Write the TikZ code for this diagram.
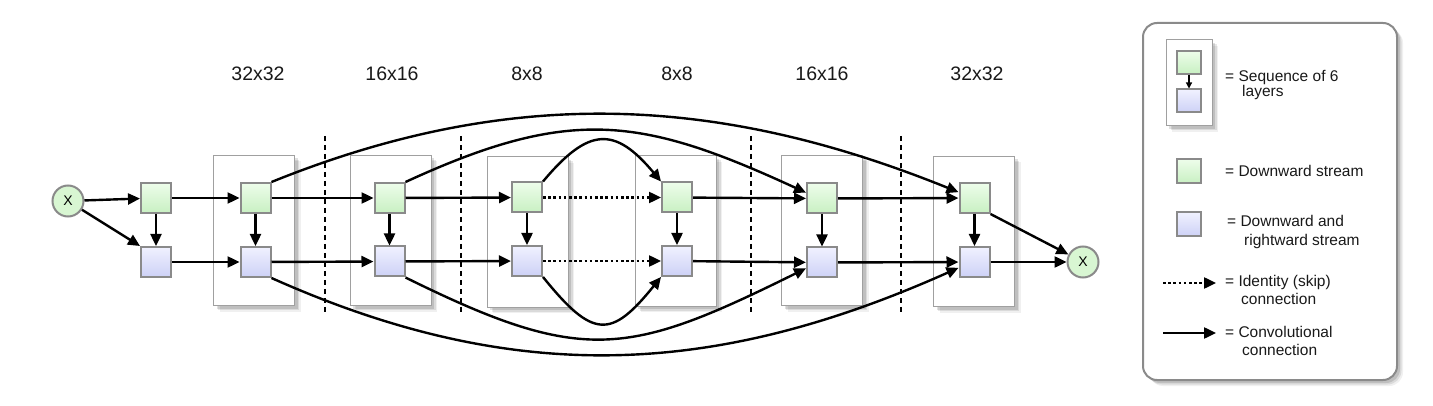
\documentclass[tikz,border=0pt]{standalone}
\usepackage{fontspec}
\setmainfont{Liberation Sans}
\usetikzlibrary{arrows.meta,shadows}
\definecolor{boxborder}{HTML}{8A8A8A}
\definecolor{greentop}{HTML}{EDFDEA}
\definecolor{greenbot}{HTML}{C8F0C2}
\definecolor{bluetop}{HTML}{F0F1FF}
\definecolor{bluebot}{HTML}{CDD1F6}
\definecolor{circfill}{HTML}{D8F6D2}
\definecolor{grpborder}{HTML}{A0A0A0}
\begin{document}
\begin{tikzpicture}[x=1pt,y=-1pt,
  sq/.style={draw=boxborder, line width=2pt, minimum width=30pt, minimum height=30pt, inner sep=0pt},
  gbox/.style={sq, top color=greentop, bottom color=greenbot},
  bbox/.style={sq, top color=bluetop, bottom color=bluebot},
  lgbox/.style={gbox, minimum width=24pt, minimum height=24pt},
  lbbox/.style={bbox, minimum width=24pt, minimum height=24pt},
  softshadow/.style={
    drop shadow={shadow xshift=6pt, shadow yshift=-6pt, fill=black, opacity=0.06},
    drop shadow={shadow xshift=4.5pt, shadow yshift=-4.5pt, fill=black, opacity=0.09},
    drop shadow={shadow xshift=3pt, shadow yshift=-3pt, fill=black, opacity=0.12}},
  grp/.style={draw=grpborder, line width=1pt, fill=white, minimum width=81pt, minimum height=150pt, inner sep=0pt, softshadow},
  xcirc/.style={circle, draw=boxborder, line width=2pt, fill=circfill, minimum size=31pt, inner sep=0pt, font=\fontsize{14}{16}\selectfont},
  conv/.style={line width=2.4pt, -{Triangle[length=12pt,width=11pt]}},
  ident/.style={line width=2.4pt, dash pattern=on 2.6pt off 2.6pt, -{Triangle[length=12pt,width=11pt]}},
  sep/.style={line width=2.4pt, dash pattern=on 5pt off 4pt},
  title/.style={anchor=base, font=\fontsize{19.5}{22}\selectfont, text=black!90},
  ltext/.style={anchor=base west, inner sep=0pt, font=\fontsize{15.5}{18}\selectfont, text=black!90}
]
\useasboundingbox (0,0) rectangle (1433,406);

% titles
\node[title] (t1) at (258,81) {32x32};
\node[title] (t2) at (392,81) {16x16};
\node[title] (t3) at (527,81) {8x8};
\node[title] (t4) at (677,81) {8x8};
\node[title] (t5) at (822,81) {16x16};
\node[title] (t6) at (977,81) {32x32};

% separators
\coordinate (s1t) at (325,136); \coordinate (s1b) at (325,312);
\coordinate (s2t) at (461,136); \coordinate (s2b) at (461,312);
\coordinate (s3t) at (751,136); \coordinate (s3b) at (751,312);
\coordinate (s4t) at (901,136); \coordinate (s4b) at (901,312);
\draw[sep] (s1t) -- (s1b);
\draw[sep] (s2t) -- (s2b);
\draw[sep] (s3t) -- (s3b);
\draw[sep] (s4t) -- (s4b);

% groups
\node[grp] (r1) at (254,230.5) {};
\node[grp] (r2) at (390.5,230.5) {};
\node[grp] (r3) at (527.5,232) {};
\node[grp] (r4) at (675.5,231) {};
\node[grp] (r5) at (822,230.5) {};
\node[grp] (r6) at (974,231.5) {};

% circles
\node[xcirc] (xin) at (68,201) {X};
\node[xcirc] (xout) at (1083,262) {X};

% boxes
\node[gbox] (ga) at (156,198) {};
\node[bbox] (ba) at (156,262) {};
\node[gbox] (gb) at (255.5,198) {};
\node[bbox] (bb) at (255.5,262) {};
\node[gbox] (gc) at (389.5,198) {};
\node[bbox] (bc) at (389.5,261.5) {};
\node[gbox] (gd) at (527,197.5) {};
\node[bbox] (bd) at (527,261) {};
\node[gbox] (ge) at (677,197.5) {};
\node[bbox] (be) at (677,261) {};
\node[gbox] (gf) at (822,198.5) {};
\node[bbox] (bf) at (822,262.5) {};
\node[gbox] (gg) at (974.5,198) {};
\node[bbox] (bg) at (974.5,262) {};

% vertical arrows
\foreach \n in {a,b,c,d,e,f,g}{\draw[conv] (g\n) -- (b\n);}

% straight connections
\draw[conv] (xin) -- (ga);
\draw[conv] (xin) -- (ba.north west);
\draw[conv] (ga) -- (gb);
\draw[conv] (ba) -- (bb);
\draw[conv] (gb) -- (gc);
\draw[conv] (bb) -- (bc);
\draw[conv] (gc) -- (gd);
\draw[conv] (bc) -- (bd);
\draw[ident] (gd) -- (ge);
\draw[ident] (bd) -- (be);
\draw[conv] (ge) -- (gf);
\draw[conv] (be) -- (bf);
\draw[conv] (gf) -- (gg);
\draw[conv] (bf) -- (bg);
\draw[conv] (gg.south east) -- (xout);
\draw[conv] (bg) -- (xout);

% curved skip connections
\draw[conv] (gb.north east) .. controls +(240,-97) and +(-240,-97) .. (gg.160);
\draw[conv] (gc.north east) .. controls +(165,-76) and +(-165,-76) .. (gf.160);
\draw[conv] (gd.north east) .. controls +(46,-55) and +(-46,-55) .. (ge.north west);
\draw[conv] (bd.south east) .. controls +(50,62) and +(-50,62) .. (be.south west);
\draw[conv] (bc.south east) .. controls +(178,88) and +(-178,88) .. (bf.200);
\draw[conv] (bb.south east) .. controls +(244,109) and +(-244,109) .. (bg.200);

% legend
\node[draw=boxborder, line width=2pt, rounded corners=14pt, fill=white, minimum width=254pt, minimum height=357pt, inner sep=0pt,
  softshadow] (lg) at (1270,201.5) {};
\node[grp, minimum width=46pt, minimum height=86pt] (lgg) at (1189,83) {};
\node[lgbox, minimum height=23pt] (lsg) at (1189,62.5) {};
\node[lbbox, minimum height=23pt] (lsb) at (1189,101) {};
\draw[line width=1.2pt, -{Triangle[length=6pt,width=6pt]}] (lsg) -- (lsb);
\node[ltext] (l1a) at (1225,82) {= Sequence of 6};
\node[ltext] (l1b) at (1242,97) {layers};

\node[lgbox] (lgr) at (1189,171.5) {};
\node[ltext] (l2a) at (1225,177) {= Downward stream};

\node[lbbox] (lbl) at (1189,224.5) {};
\node[ltext] (l3a) at (1227,227) {= Downward and};
\node[ltext] (l3b) at (1244,246) {rightward stream};

\coordinate (la1) at (1163,283); \coordinate (la2) at (1216,283);
\draw[ident] (la1) -- (la2);
\node[ltext] (l4a) at (1225,287) {= Identity (skip)};
\node[ltext] (l4b) at (1241,305) {connection};

\coordinate (lb1) at (1163,333); \coordinate (lb2) at (1216,333);
\draw[conv] (lb1) -- (lb2);
\node[ltext] (l5a) at (1225,337) {= Convolutional};
\node[ltext] (l5b) at (1242,355) {connection};
\end{tikzpicture}
\end{document}
